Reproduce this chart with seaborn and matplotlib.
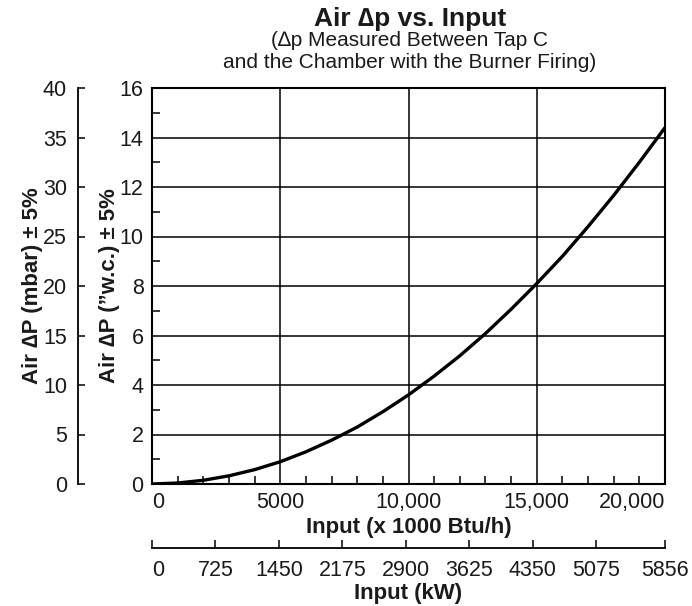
import numpy as np
import pandas as pd
import matplotlib
matplotlib.use("Agg")
import matplotlib.pyplot as plt
import seaborn as sns
from matplotlib.ticker import FixedLocator, MultipleLocator

# curve (x 1000 Btu/h vs. inches w.c.)
input_btu = [0, 1000, 2000, 3000, 4000, 5000, 6000, 7000, 8000, 9000, 10000,
             11000, 12000, 13000, 14000, 15000, 16000, 17000, 18000, 19000, 20000]
air_dp_wc = [0.0, 0.04, 0.15, 0.33, 0.58, 0.9, 1.3, 1.77, 2.3, 2.92, 3.6,
             4.36, 5.18, 6.08, 7.06, 8.1, 9.2, 10.4, 11.66, 13.0, 14.4]

btu_ticks = [0, 5000, 10000, 15000, 20000]
btu_labels = ["0", "5000", "10,000", "15,000", "20,000"]
wc_ticks = [0, 2, 4, 6, 8, 10, 12, 14, 16]
mbar_ticks = [0, 5, 10, 15, 20, 25, 30, 35, 40]
kw_ticks = [0, 725, 1450, 2175, 2900, 3625, 4350, 5075, 5856]
KW_TO_BTU = 3.41214

df = pd.DataFrame({"btu": input_btu, "wc": air_dp_wc})

sns.set_style("white")
plt.rcParams["font.family"] = ["Liberation Sans", "DejaVu Sans"]
ink = "#1a1a1a"
TICK_FS = 15.5
LAB_FS = 16

fig = plt.figure(figsize=(6.92, 6.06), dpi=100)
L, B, W, H = 152 / 692, 1 - 484 / 606, 513 / 692, 396 / 606
ax = fig.add_axes([L, B, W, H])

sns.lineplot(data=df, x="btu", y="wc", ax=ax, color="black", linewidth=2.4)

ax.set_xlim(0, 20000)
ax.set_ylim(0, 16)
ax.xaxis.set_major_locator(FixedLocator(btu_ticks))
ax.set_xticklabels(btu_labels)
ax.xaxis.set_minor_locator(MultipleLocator(1000))
ax.yaxis.set_major_locator(FixedLocator(wc_ticks))
ax.yaxis.set_minor_locator(MultipleLocator(1))
ax.grid(True, which="major", color="black", linewidth=1.1)
for s in ax.spines.values():
    s.set_color("black")
    s.set_linewidth(1.5)
ax.tick_params(which="major", length=0, labelsize=TICK_FS, labelcolor=ink, pad=6)
ax.tick_params(which="minor", direction="in", length=6, width=1.1,
               bottom=True, left=True, top=False, right=False, color="black")
lbls = ax.get_xticklabels()
lbls[0].set_ha("left")
lbls[-1].set_ha("right")
ax.set_xlabel("Input (x 1000 Btu/h)", fontsize=LAB_FS, fontweight="bold", color=ink, labelpad=3)
ax.set_ylabel("Air \u2206P (\u201dw.c.) \u00b1 5%", fontsize=LAB_FS, fontweight="bold", color=ink, labelpad=0)

# mbar axis on the far left
axm = fig.add_axes([78 / 692, B, 0.0001, H])
axm.set_ylim(0, 40)
axm.yaxis.set_major_locator(FixedLocator(mbar_ticks))
axm.set_xticks([])
for k in ["top", "right", "bottom"]:
    axm.spines[k].set_visible(False)
axm.spines["left"].set_linewidth(1.3)
axm.spines["left"].set_color("black")
axm.patch.set_visible(False)
axm.tick_params(axis="y", left=True, direction="in", length=5, width=1.1,
                labelsize=TICK_FS, labelcolor=ink, pad=8, color="black")
axm.set_ylabel("Air \u2206P (mbar) \u00b1 5%", fontsize=LAB_FS, fontweight="bold", color=ink, labelpad=0)

# kW axis below
axk = fig.add_axes([L, 1 - 548 / 606, W, 0.0001])
axk.set_xlim(0, 20000 / KW_TO_BTU)
axk.xaxis.set_major_locator(FixedLocator(kw_ticks))
axk.set_yticks([])
for k in ["top", "right", "left"]:
    axk.spines[k].set_visible(False)
axk.spines["bottom"].set_bounds(0, kw_ticks[-1])
axk.spines["bottom"].set_linewidth(1.3)
axk.spines["bottom"].set_color("black")
axk.patch.set_visible(False)
axk.tick_params(axis="x", bottom=True, direction="in", length=6, width=1.1,
                labelsize=TICK_FS, labelcolor=ink, pad=9, color="black")
axk.get_xticklabels()[0].set_ha("left")
axk.set_xlabel("Input (kW)", fontsize=LAB_FS, fontweight="bold", color=ink, labelpad=1)

fig.text(410 / 692, 1 - 19 / 606, "Air \u2206p vs. Input", ha="center", va="center",
         fontsize=19, fontweight="bold", color=ink)
fig.text(410 / 692, 1 - 52 / 606,
         "(\u2206p Measured Between Tap C\nand the Chamber with the Burner Firing)",
         ha="center", va="center", fontsize=15, color=ink, linespacing=1.2)

fig.savefig("out.png", dpi=100)
